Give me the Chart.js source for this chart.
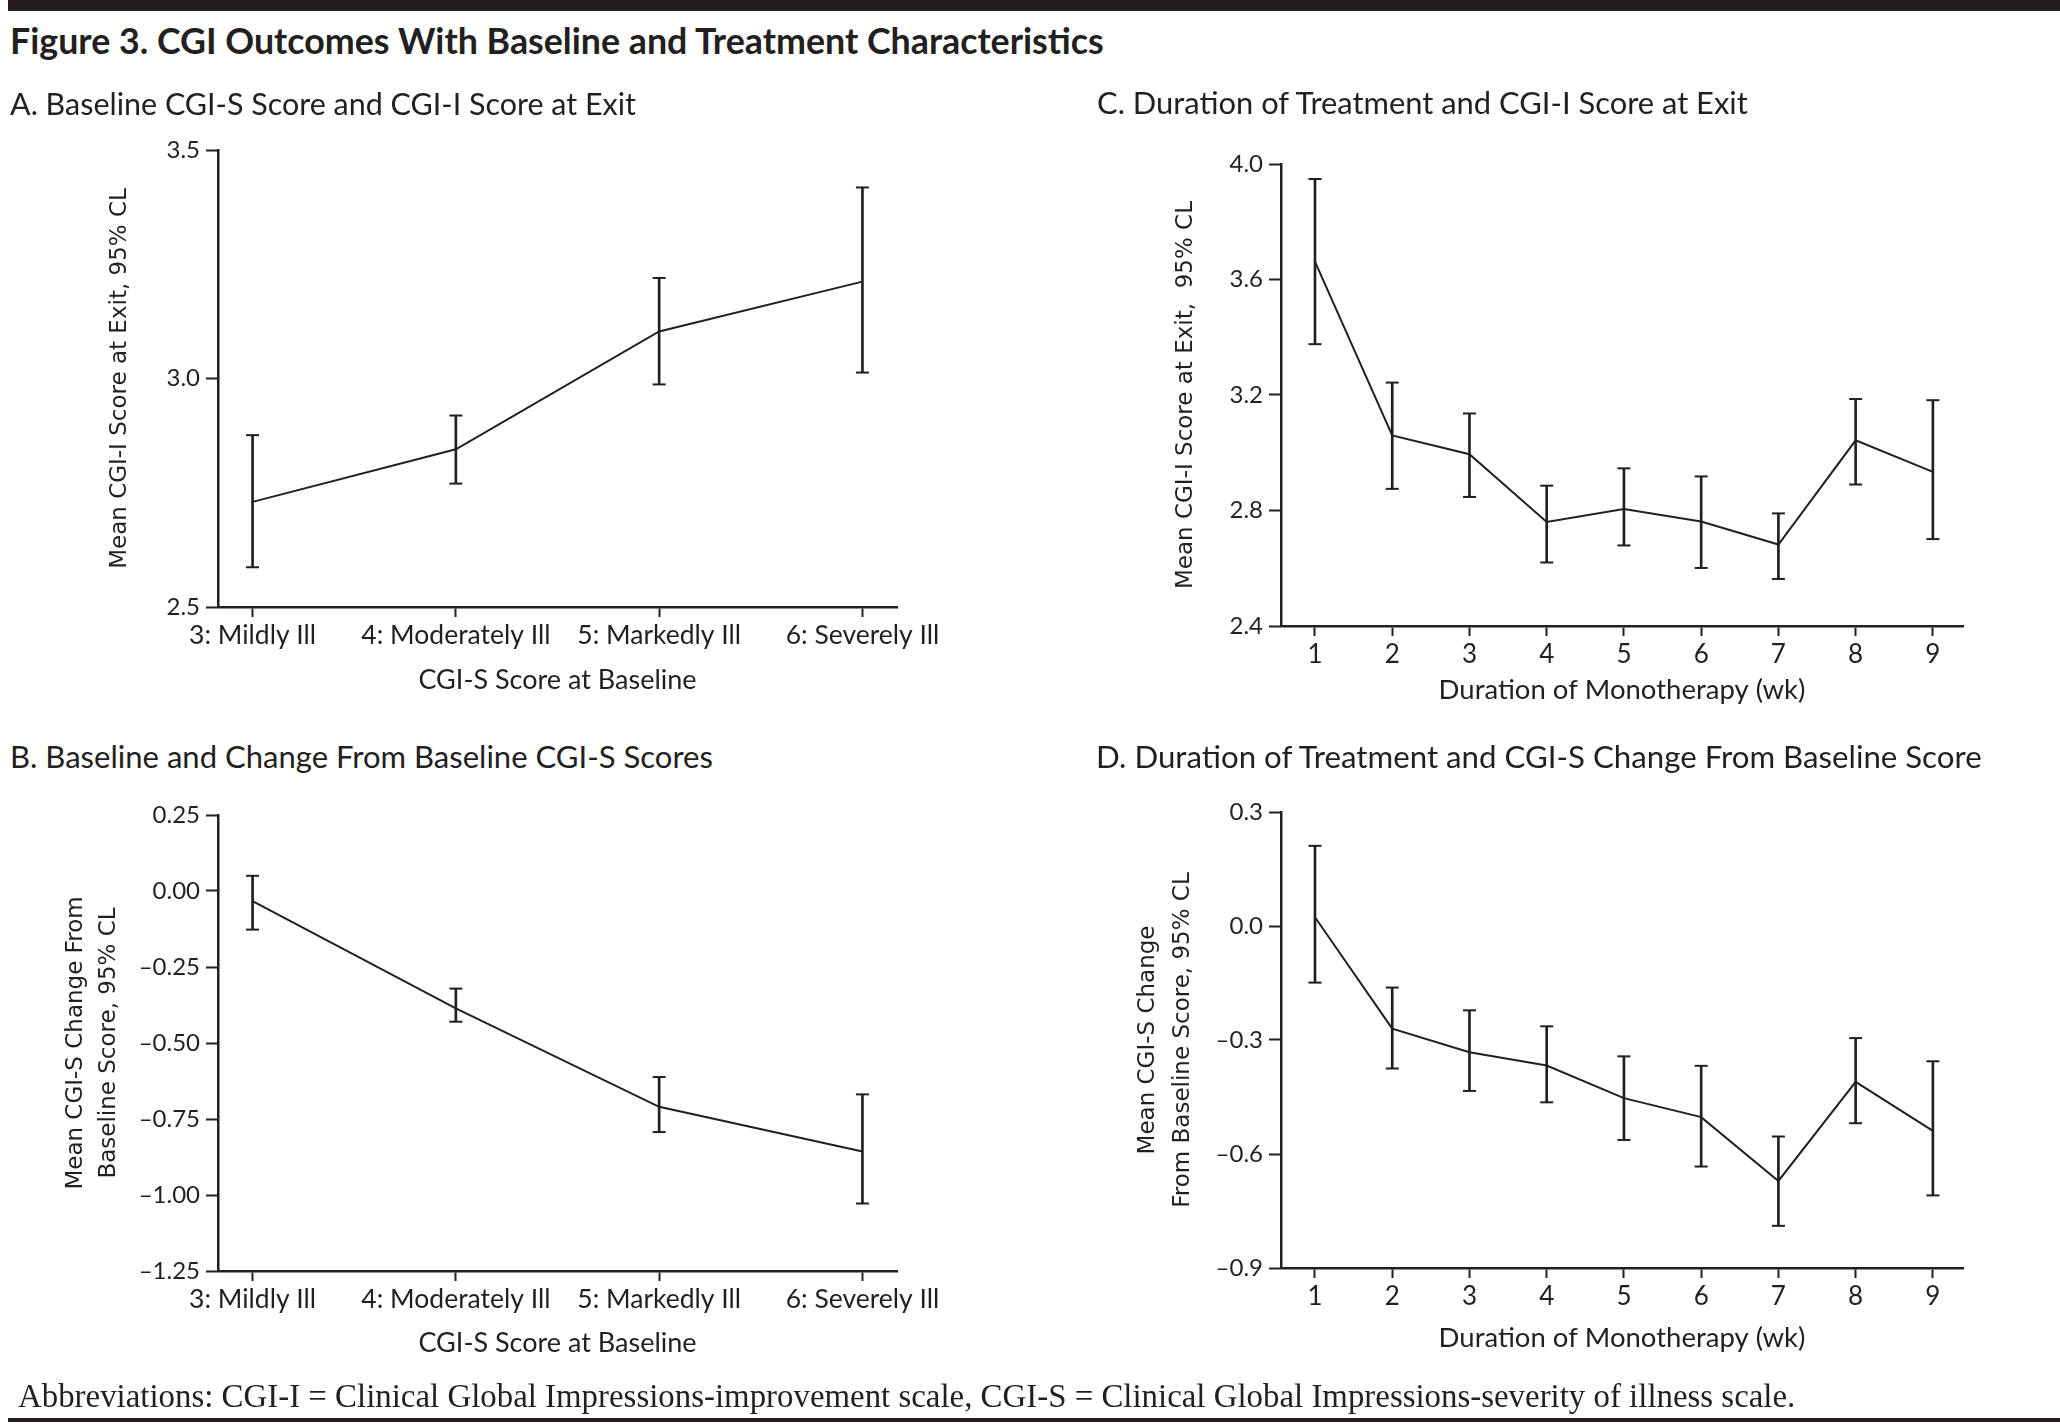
<!DOCTYPE html>
<html><head><meta charset="utf-8">
<script src="https://cdn.jsdelivr.net/npm/chart.js@4.4.1/dist/chart.umd.min.js"></script>
<style>
html,body{margin:0;padding:0;background:#fff;}
body{width:2060px;height:1425px;position:relative;overflow:hidden;color:#231f20;}
.t{position:absolute;white-space:nowrap;line-height:40px;height:40px;}
canvas{position:absolute;}
.rule{position:absolute;background:#231f20;}
</style></head><body>
<canvas id="cA" width="1000" height="600" style="left:0;top:120px;width:1000px;height:600px"></canvas>
<canvas id="cB" width="1000" height="620" style="left:0;top:780px;width:1000px;height:620px"></canvas>
<canvas id="cC" width="980" height="620" style="left:1080px;top:120px;width:980px;height:620px"></canvas>
<canvas id="cD" width="980" height="620" style="left:1080px;top:780px;width:980px;height:620px"></canvas>

<div class="rule" style="left:8px;top:0;width:2052px;height:11px"></div>
<div class="t" data-w="1094" style="left:10px;top:21px;font-family:Lato;font-weight:700;font-size:32px">Figure 3. CGI Outcomes With Baseline and Treatment Characteristics</div>
<div class="t" data-w="626" style="left:10px;top:83px;font-family:Lato;font-size:28px">A. Baseline CGI-S Score and CGI-I Score at Exit</div>
<div class="t" data-w="651" style="left:1097px;top:83px;font-family:Lato;font-size:28px">C. Duration of Treatment and CGI-I Score at Exit</div>
<div class="t" data-w="703" style="left:10px;top:736px;font-family:Lato;font-size:28px">B. Baseline and Change From Baseline CGI-S Scores</div>
<div class="t" data-w="886" style="left:1096px;top:736px;font-family:Lato;font-size:28px">D. Duration of Treatment and CGI-S Change From Baseline Score</div>
<div class="t" data-w="1778" style="left:18px;top:1376px;font-family:'Liberation Serif';font-size:26px">Abbreviations: CGI-I = Clinical Global Impressions-improvement scale, CGI-S = Clinical Global Impressions-severity of illness scale.</div>
<div class="rule" style="left:8px;top:1418px;width:2052px;height:4px"></div>

<script>
// ---- data ----
const baselineCategories = ["3: Mildly Ill", "4: Moderately Ill", "5: Markedly Ill", "6: Severely Ill"];
const baselineX = [0, 1, 2, 3];
const weeks = [1, 2, 3, 4, 5, 6, 7, 8, 9];
const weekLabels = ["1", "2", "3", "4", "5", "6", "7", "8", "9"];

// A: CGI-I at exit by baseline CGI-S
const meanA = [2.730, 2.845, 3.103, 3.212];
const lowA  = [2.587, 2.770, 2.987, 3.013];
const highA = [2.876, 2.919, 3.220, 3.418];
const yTicksA = [2.5, 3.0, 3.5];
const yLabelsA = ["2.5", "3.0", "3.5"];

// B: CGI-S change from baseline by baseline CGI-S
const meanB = [-0.033, -0.386, -0.710, -0.857];
const lowB  = [-0.127, -0.430, -0.793, -1.028];
const highB = [0.050, -0.321, -0.612, -0.669];
const yTicksB = [-1.25, -1.00, -0.75, -0.50, -0.25, 0.00, 0.25];
const yLabelsB = ["\u20131.25", "\u20131.00", "\u20130.75", "\u20130.50", "\u20130.25", "0.00", "0.25"];

// C: CGI-I at exit by duration of monotherapy
const meanC = [3.662, 3.060, 2.995, 2.760, 2.805, 2.762, 2.682, 3.043, 2.934];
const lowC  = [3.376, 2.875, 2.847, 2.620, 2.679, 2.601, 2.563, 2.890, 2.701];
const highC = [3.948, 3.243, 3.136, 2.886, 2.946, 2.918, 2.790, 3.186, 3.182];
const yTicksC = [2.4, 2.8, 3.2, 3.6, 4.0];
const yLabelsC = ["2.4", "2.8", "3.2", "3.6", "4.0"];

// D: CGI-S change from baseline by duration of monotherapy
const meanD = [0.023, -0.270, -0.332, -0.367, -0.453, -0.503, -0.671, -0.410, -0.539];
const lowD  = [-0.149, -0.375, -0.434, -0.464, -0.563, -0.633, -0.789, -0.519, -0.709];
const highD = [0.211, -0.162, -0.222, -0.264, -0.343, -0.368, -0.554, -0.295, -0.356];
const yTicksD = [-0.9, -0.6, -0.3, 0.0, 0.3];
const yLabelsD = ["\u20130.9", "\u20130.6", "\u20130.3", "0.0", "0.3"];

// ---- fit HTML text widths ----
document.querySelectorAll('[data-w]').forEach(el => {
  const w = el.getBoundingClientRect().width;
  const fs = parseFloat(el.style.fontSize);
  el.style.fontSize = (fs * parseFloat(el.dataset.w) / w).toFixed(2) + 'px';
});

const INK = '#231f20';
Chart.defaults.font.family = 'Lato';
Chart.defaults.color = INK;

function panel(id, xs, xLabels, mean, low, high, yTicks, yLabels, g, yTitle, xTitle) {
  const lineData = xs.map((x, i) => ({x: x, y: mean[i]}));
  const barData = xs.map((x, i) => ({x: x, y: [low[i], high[i]]}));
  const capData = [];
  xs.forEach((x, i) => { capData.push({x: x, y: low[i]}); capData.push({x: x, y: high[i]}); });
  new Chart(document.getElementById(id), {
    type: 'line',
    data: {datasets: [
      {type: 'line', data: lineData, borderColor: INK, borderWidth: 2, pointRadius: 0, tension: 0, fill: false},
      {type: 'bar', data: barData, backgroundColor: INK, borderWidth: 0, barThickness: 2},
      {type: 'scatter', data: capData, pointStyle: 'line', pointRadius: 6.5, pointBorderWidth: 2,
       pointBorderColor: INK, borderColor: INK, backgroundColor: INK, showLine: false}
    ]},
    options: {
      responsive: false, animation: false, events: [],
      layout: {padding: {left: 0, top: g.top, right: g.right, bottom: g.bottom}},
      plugins: {legend: {display: false}, tooltip: {enabled: false}},
      scales: {
        x: {
          type: 'linear', min: g.xmin, max: g.xmax, offset: false,
          afterBuildTicks: s => { s.ticks = xs.map(v => ({value: v})); },
          afterFit: s => { s.height = g.xh; },
          ticks: {callback: (v, i) => xLabels[i], font: {size: g.xfs}, padding: g.xpad, maxRotation: 0, autoSkip: false, color: INK},
          grid: {display: true, offset: false, drawOnChartArea: false, drawTicks: true, tickLength: 10, tickWidth: 2, tickColor: INK, color: INK},
          border: {display: true, color: INK, width: 2.5},
          title: {display: true, text: xTitle, font: {size: g.xtfs}, color: INK, padding: {top: 0, bottom: g.xtp}}
        },
        y: {
          type: 'linear', min: yTicks[0], max: yTicks[yTicks.length - 1], offset: false,
          afterBuildTicks: s => { s.ticks = yTicks.map(v => ({value: v})); },
          afterFit: s => { s.width = g.yw; },
          ticks: {callback: (v, i) => yLabels[i], font: {size: 24}, padding: 6, autoSkip: false, color: INK},
          grid: {display: true, offset: false, drawOnChartArea: false, drawTicks: true, tickLength: 12, tickWidth: 2, tickColor: INK, color: INK},
          border: {display: true, color: INK, width: 2.5},
          title: {display: true, text: yTitle, font: {family: 'DejaVu Sans', size: 23, lineHeight: g.ylh}, color: INK,
                  padding: {top: g.ytp, bottom: 0}}
        }
      }
    }
  });
}

panel('cA', baselineX, baselineCategories, meanA, lowA, highA, yTicksA, yLabelsA,
  {top: 30, right: 103, bottom: 10, xh: 103, yw: 218, xmin: -0.17, xmax: 3.17, xfs: 26.5, xpad: 3, xtfs: 27, xtp: 14, ytp: 106, ylh: 1.2},
  'Mean CGI-I Score at Exit, 95% CL', 'CGI-S Score at Baseline');
panel('cB', baselineX, baselineCategories, meanB, lowB, highB, yTicksB, yLabelsB,
  {top: 35, right: 103, bottom: 10, xh: 119, yw: 218, xmin: -0.17, xmax: 3.17, xfs: 26.5, xpad: 3, xtfs: 27, xtp: 31, ytp: 59, ylh: 1.45},
  ['Mean CGI-S Change From', 'Baseline Score, 95% CL'], 'CGI-S Score at Baseline');
panel('cC', weeks, weekLabels, meanC, lowC, highC, yTicksC, yLabelsC,
  {top: 44, right: 97, bottom: 10, xh: 104, yw: 201, xmin: 0.56, xmax: 9.39, xfs: 26, xpad: 3, xtfs: 27.5, xtp: 23, ytp: 92, ylh: 1.2},
  'Mean CGI-I Score at Exit,  95% CL', 'Duration of Monotherapy (wk)');
panel('cD', weeks, weekLabels, meanD, lowD, highD, yTicksD, yLabelsD,
  {top: 32, right: 97, bottom: 12, xh: 120, yw: 201, xmin: 0.56, xmax: 9.39, xfs: 26, xpad: 3, xtfs: 27.5, xtp: 33, ytp: 51, ylh: 1.52},
  ['Mean CGI-S Change', 'From Baseline Score, 95% CL'], 'Duration of Monotherapy (wk)');
</script>
</body></html>
